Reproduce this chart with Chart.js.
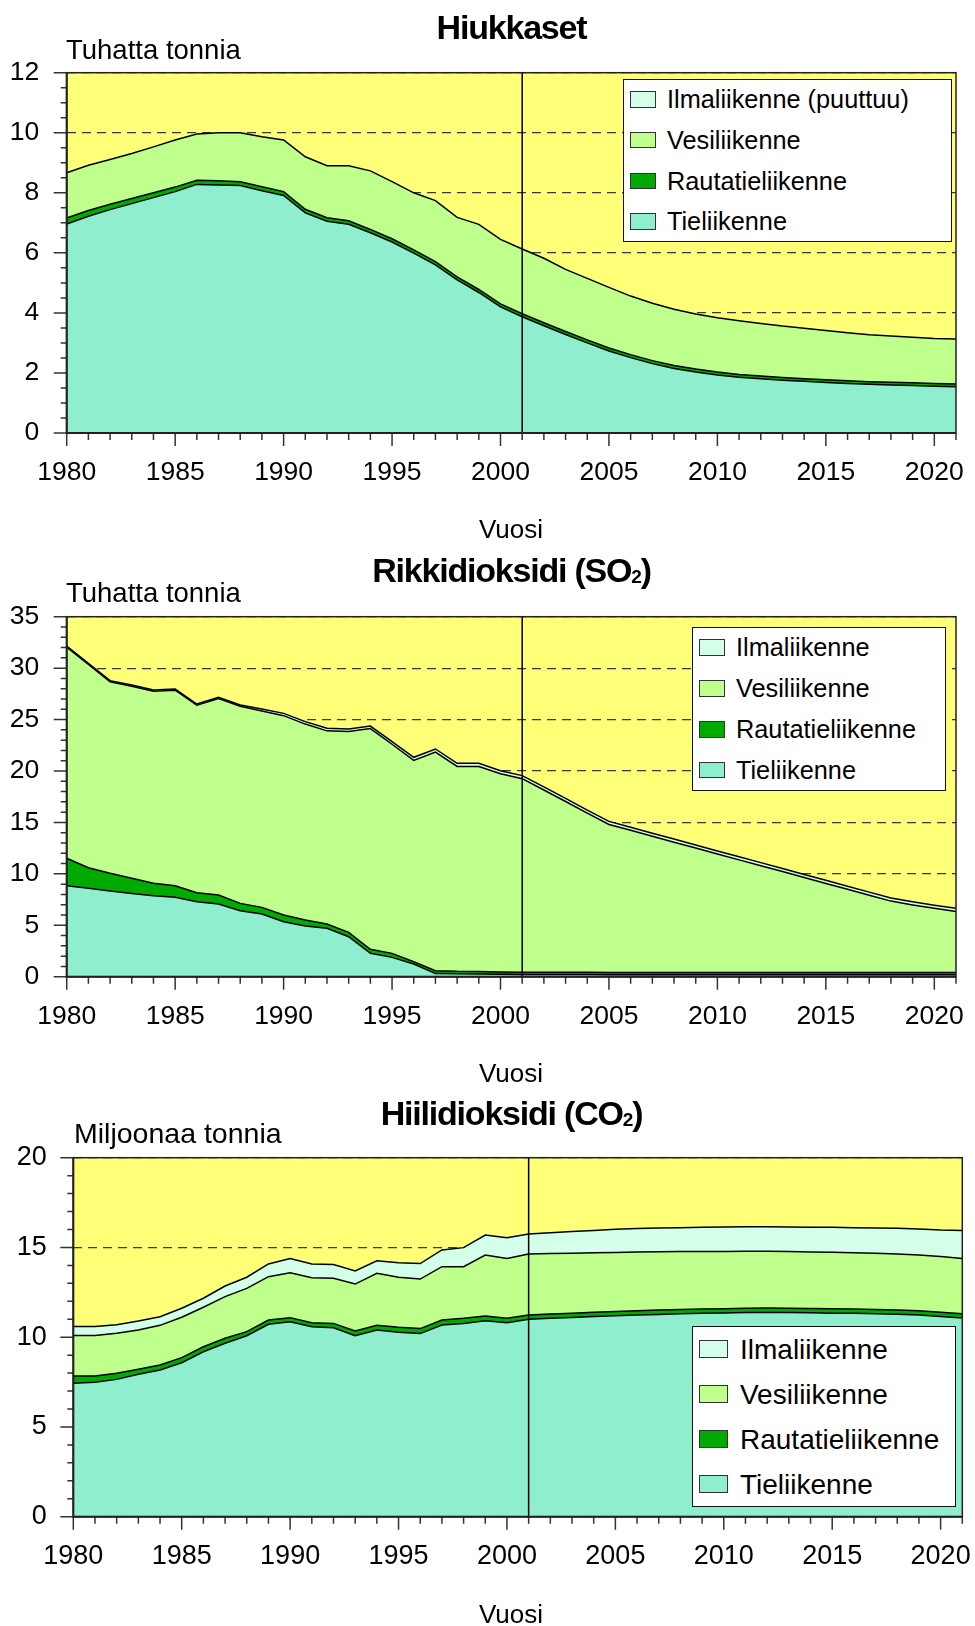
<!DOCTYPE html>
<html lang="fi">
<head>
<meta charset="utf-8">
<title>Liikenteen päästöt</title>
<script src="https://cdn.jsdelivr.net/npm/chart.js@4.4.1/dist/chart.umd.min.js"></script>
<style>
  html, body { margin: 0; padding: 0; background: #fff; }
  body { width: 975px; height: 1626px; position: relative; overflow: hidden;
         font-family: "Liberation Sans", Arial, Helvetica, sans-serif; color: #000; }
  canvas { position: absolute; left: 0; }
  .txt { position: absolute; line-height: 1; white-space: nowrap; }
  .ctr { transform: translateX(-50%); }
  .title { font-weight: bold; letter-spacing: -1.2px; }
  .sub { font-size: 0.56em; position: relative; top: 0.04em; }
  .legend { position: absolute; background: #fff; border: 1.7px solid #111; box-sizing: border-box; }
  .legend .sw { position: absolute; box-sizing: border-box; border: 1.5px solid #333; }
  .legend .lab { position: absolute; line-height: 1; white-space: nowrap; }
</style>
</head>
<body>

<canvas id="c1" width="975" height="545" style="top:0px"></canvas>
<canvas id="c2" width="975" height="540" style="top:545px"></canvas>
<canvas id="c3" width="975" height="541" style="top:1085px"></canvas>

<div class="txt ctr title" style="left:511.5px;top:9.5px;font-size:34px">Hiukkaset</div>
<div class="txt" style="left:66px;top:36px;font-size:27.5px">Tuhatta tonnia</div>
<div class="txt ctr" style="left:511px;top:516.3px;font-size:26px">Vuosi</div>

<div class="txt ctr title" style="left:511.5px;top:552.9px;font-size:34px">Rikkidioksidi (SO<span class="sub">2</span>)</div>
<div class="txt" style="left:66px;top:579.4px;font-size:27.5px">Tuhatta tonnia</div>
<div class="txt ctr" style="left:511px;top:1060px;font-size:26px">Vuosi</div>

<div class="txt ctr title" style="left:511.5px;top:1096.2px;font-size:34px">Hiilidioksidi (CO<span class="sub">2</span>)</div>
<div class="txt" style="left:74px;top:1119.2px;font-size:28.5px">Miljoonaa tonnia</div>
<div class="txt ctr" style="left:511px;top:1601.3px;font-size:26px">Vuosi</div>

<div class="legend" id="l1" style="left:623.3px;top:79px;width:328.4px;height:163.3px"></div>
<div class="legend" id="l2" style="left:692.3px;top:627.3px;width:253.4px;height:163.4px"></div>
<div class="legend" id="l3" style="left:691.7px;top:1326px;width:264.3px;height:180.7px"></div>

<script>
// Years on the horizontal axis
const years = [1980, 1981, 1982, 1983, 1984, 1985, 1986, 1987, 1988, 1989,
               1990, 1991, 1992, 1993, 1994, 1995, 1996, 1997, 1998, 1999,
               2000, 2001, 2002, 2003, 2004, 2005, 2006, 2007, 2008, 2009,
               2010, 2011, 2012, 2013, 2014, 2015, 2016, 2017, 2018, 2019,
               2020, 2021];
const xTickLabels = [1980, 1985, 1990, 1995, 2000, 2005, 2010, 2015, 2020];
const markerYear = 2001;

// Hiukkaset, tuhatta tonnia
const hiukkasetTie = [6.96, 7.22, 7.44, 7.64, 7.84, 8.04, 8.28, 8.26, 8.24, 8.07,
                      7.91, 7.33, 7.05, 6.95, 6.67, 6.36, 5.99, 5.60, 5.10, 4.68,
                      4.20, 3.87, 3.57, 3.28, 3.00, 2.73, 2.51, 2.31, 2.15, 2.03,
                      1.93, 1.86, 1.81, 1.76, 1.72, 1.68, 1.65, 1.62, 1.60, 1.58,
                      1.56, 1.54];
const hiukkasetRautatie = [0.20, 0.19, 0.18, 0.17, 0.16, 0.15, 0.14, 0.14, 0.13, 0.13,
                           0.13, 0.12, 0.12, 0.12, 0.11, 0.11, 0.11, 0.11, 0.10, 0.10,
                           0.10, 0.10, 0.10, 0.10, 0.10, 0.10, 0.10, 0.10, 0.10, 0.10,
                           0.10, 0.09, 0.09, 0.09, 0.09, 0.09, 0.09, 0.09, 0.09, 0.09,
                           0.09, 0.09];
const hiukkasetVesi = [1.51, 1.51, 1.49, 1.50, 1.53, 1.57, 1.54, 1.60, 1.63, 1.67,
                       1.72, 1.75, 1.73, 1.83, 1.95, 1.90, 1.90, 2.03, 1.98, 2.17,
                       2.15, 2.16, 2.15, 2.07, 2.05, 2.02, 1.95, 1.91, 1.87, 1.83,
                       1.81, 1.79, 1.75, 1.71, 1.68, 1.64, 1.60, 1.56, 1.54, 1.52,
                       1.50, 1.50];
const hiukkasetIlma = [];   // ei tietoja
const hiukkasetYTicks = [0, 2, 4, 6, 8, 10, 12];
const hiukkasetLabels = ['Tieliikenne', 'Rautatieliikenne', 'Vesiliikenne', 'Ilmaliikenne (puuttuu)'];

// Rikkidioksidi, tuhatta tonnia
const rikkiTie = [8.85, 8.59, 8.33, 8.10, 7.88, 7.72, 7.29, 7.07, 6.42, 6.10,
                  5.35, 4.93, 4.70, 3.89, 2.27, 1.88, 1.23, 0.30, 0.28, 0.27,
                  0.24, 0.22, 0.21, 0.21, 0.21, 0.20, 0.20, 0.20, 0.20, 0.20,
                  0.20, 0.20, 0.20, 0.20, 0.20, 0.20, 0.20, 0.20, 0.20, 0.20,
                  0.20, 0.20];
const rikkiRautatie = [2.66, 2.01, 1.72, 1.47, 1.20, 1.13, 0.88, 0.87, 0.71, 0.64,
                       0.65, 0.58, 0.42, 0.42, 0.39, 0.39, 0.23, 0.28, 0.24, 0.24,
                       0.22, 0.22, 0.22, 0.22, 0.22, 0.22, 0.22, 0.22, 0.22, 0.22,
                       0.22, 0.22, 0.22, 0.22, 0.22, 0.22, 0.22, 0.22, 0.22, 0.22,
                       0.22, 0.22];
const rikkiVesi = [20.52, 19.75, 18.61, 18.67, 18.67, 19.00, 18.22, 19.10, 19.16, 19.09,
                   19.38, 19.05, 18.78, 19.52, 21.46, 20.33, 19.57, 21.26, 19.92, 19.93,
                   19.27, 18.81, 17.72, 16.60, 15.47, 14.38, 13.81, 13.23, 12.66, 12.09,
                   11.51, 10.94, 10.37, 9.80, 9.22, 8.65, 8.08, 7.50, 6.93, 6.56,
                   6.23, 5.93];
const rikkiIlma = [0.12, 0.12, 0.12, 0.12, 0.12, 0.12, 0.12, 0.12, 0.12, 0.20,
                   0.22, 0.24, 0.25, 0.25, 0.25, 0.25, 0.30, 0.30, 0.30, 0.30,
                   0.30, 0.30, 0.30, 0.30, 0.30, 0.30, 0.30, 0.30, 0.30, 0.30,
                   0.30, 0.30, 0.30, 0.30, 0.30, 0.30, 0.30, 0.30, 0.30, 0.30,
                   0.30, 0.30];
const rikkiYTicks = [0, 5, 10, 15, 20, 25, 30, 35];
const rikkiLabels = ['Tieliikenne', 'Rautatieliikenne', 'Vesiliikenne', 'Ilmaliikenne'];

// Hiilidioksidi, miljoonaa tonnia
const hiiliTie = [7.43, 7.49, 7.65, 7.93, 8.17, 8.58, 9.19, 9.66, 10.08, 10.72,
                  10.86, 10.58, 10.53, 10.08, 10.40, 10.27, 10.20, 10.68, 10.77, 10.92,
                  10.81, 11.00, 11.05, 11.10, 11.15, 11.19, 11.23, 11.27, 11.30, 11.33,
                  11.35, 11.37, 11.38, 11.37, 11.36, 11.34, 11.33, 11.31, 11.28, 11.24,
                  11.15, 11.07];
const hiiliRautatie = [0.41, 0.35, 0.34, 0.28, 0.28, 0.28, 0.28, 0.28, 0.23, 0.24,
                       0.23, 0.23, 0.24, 0.27, 0.26, 0.28, 0.28, 0.28, 0.28, 0.26,
                       0.24, 0.24, 0.24, 0.24, 0.24, 0.24, 0.24, 0.24, 0.24, 0.24,
                       0.24, 0.24, 0.24, 0.24, 0.24, 0.24, 0.24, 0.24, 0.24, 0.24,
                       0.24, 0.24];
const hiiliVesi = [2.26, 2.26, 2.23, 2.19, 2.21, 2.25, 2.20, 2.32, 2.41, 2.41,
                   2.50, 2.50, 2.51, 2.61, 2.90, 2.79, 2.76, 2.97, 2.88, 3.40,
                   3.34, 3.39, 3.37, 3.34, 3.31, 3.29, 3.27, 3.25, 3.23, 3.21,
                   3.19, 3.18, 3.17, 3.16, 3.15, 3.15, 3.14, 3.13, 3.12, 3.10,
                   3.11, 3.07];
const hiiliIlma = [0.49, 0.49, 0.48, 0.50, 0.48, 0.50, 0.50, 0.59, 0.62, 0.71,
                   0.80, 0.77, 0.77, 0.73, 0.70, 0.81, 0.86, 0.93, 1.06, 1.11,
                   1.15, 1.12, 1.16, 1.21, 1.25, 1.29, 1.31, 1.33, 1.33, 1.34,
                   1.36, 1.37, 1.37, 1.37, 1.37, 1.39, 1.39, 1.41, 1.43, 1.45,
                   1.47, 1.56];
const hiiliYTicks = [0, 5, 10, 15, 20];
const hiiliLabels = ['Tieliikenne', 'Rautatieliikenne', 'Vesiliikenne', 'Ilmaliikenne'];

// Fill colours, bottom layer first
const seriesColors = ['#8eeecd', '#00aa00', '#bfff8c', '#d4ffe8'];
const plotBackground = '#ffff78';
const fontFamily = "'Liberation Sans', Arial, Helvetica, sans-serif";

// Plot background, boundary-year line, frame and tick marks
const panelFrame = {
  id: 'panelFrame',
  beforeDraw(chart, args, o) {
    const { ctx, chartArea: a } = chart;
    ctx.save();
    ctx.fillStyle = o.background;
    ctx.fillRect(a.left, a.top, a.right - a.left, a.bottom - a.top);
    ctx.restore();
  },
  afterDatasetsDraw(chart, args, o) {
    const { ctx, chartArea: a, scales: { x, y } } = chart;
    ctx.save();
    ctx.lineCap = 'butt';

    const mx = x.getPixelForValue(o.markerYear);
    ctx.strokeStyle = '#000';
    ctx.lineWidth = 1.5;
    ctx.beginPath();
    ctx.moveTo(mx, a.top);
    ctx.lineTo(mx, a.bottom);
    ctx.stroke();

    ctx.strokeStyle = '#333';
    ctx.lineWidth = 1.5;
    ctx.beginPath();
    years.forEach(yr => {
      const px = x.getPixelForValue(yr);
      const len = yr % 5 === 0 ? 13 : 7;
      ctx.moveTo(px, a.bottom);
      ctx.lineTo(px, a.bottom + len);
    });
    const majors = y.ticks.map(t => t.value);
    for (let k = 0; k * o.yMinor <= y.max + 1e-9; k++) {
      const v = k * o.yMinor;
      const py = y.getPixelForValue(v);
      const len = majors.some(m => Math.abs(m - v) < 1e-9) ? 13 : 6;
      ctx.moveTo(a.left, py);
      ctx.lineTo(a.left - len, py);
    }
    ctx.stroke();

    ctx.strokeStyle = '#222';
    ctx.lineWidth = 1.5;
    ctx.strokeRect(a.left, a.top, a.right - a.left, a.bottom - a.top);
    ctx.lineWidth = 2;
    ctx.beginPath();
    ctx.moveTo(a.left, a.top);
    ctx.lineTo(a.left, a.bottom);
    ctx.lineTo(a.right, a.bottom);
    ctx.stroke();
    ctx.restore();
  }
};

function buildPanel(p) {
  const datasets = p.series.map((values, i) => ({
    label: p.labels[i],
    data: values.map((v, j) => ({ x: years[j], y: v })),
    backgroundColor: seriesColors[i],
    borderColor: '#000',
    borderWidth: 1.5,
    fill: i === 0 ? 'origin' : '-1',
    pointRadius: 0,
    tension: 0
  }));

  new Chart(document.getElementById(p.canvas), {
    type: 'line',
    data: { datasets },
    plugins: [panelFrame],
    options: {
      responsive: false,
      animation: false,
      devicePixelRatio: 1,
      events: [],
      layout: { padding: { left: 0, top: p.padTop, right: p.padRight, bottom: 0 } },
      plugins: {
        legend: { display: false },
        tooltip: { enabled: false },
        panelFrame: { background: plotBackground, markerYear: markerYear, yMinor: p.yMinor }
      },
      scales: {
        x: {
          type: 'linear',
          min: years[0],
          max: years[years.length - 1],
          afterBuildTicks: s => { s.ticks = xTickLabels.map(v => ({ value: v })); },
          afterFit: s => { s.height = p.xHeight; },
          grid: { display: true, drawOnChartArea: false, drawTicks: true, tickLength: 24, tickWidth: 0 },
          border: { display: false },
          ticks: { padding: 0, autoSkip: false, maxRotation: 0, color: '#000',
                   font: { family: fontFamily, size: p.fontSize },
                   callback: v => String(v) }
        },
        y: {
          type: 'linear',
          stacked: true,
          min: 0,
          max: p.yTicks[p.yTicks.length - 1],
          afterBuildTicks: s => { s.ticks = p.yTicks.map(v => ({ value: v })); },
          afterFit: s => { s.width = p.yWidth; },
          grid: { display: true, drawOnChartArea: true, color: '#3a3a3a', lineWidth: 1.2,
                  drawTicks: true, tickLength: p.yLabelGap, tickWidth: 0 },
          border: { display: false, dash: [9, 6] },
          ticks: { padding: 0, autoSkip: false, color: '#000',
                   font: { family: fontFamily, size: p.fontSize },
                   callback: v => String(v) }
        }
      }
    }
  });

  // Legend: top layer first
  const box = document.getElementById(p.legend);
  const g = p.legendGeom;
  const bw = 1.7;
  for (let r = 0; r < p.series.length; r++) {
    const i = p.series.length - 1 - r;
    const cy = g.first + r * g.step - bw;
    const sw = document.createElement('div');
    sw.className = 'sw';
    sw.style.left = (g.swLeft - bw) + 'px';
    sw.style.top = (cy - g.swH / 2) + 'px';
    sw.style.width = g.swW + 'px';
    sw.style.height = g.swH + 'px';
    sw.style.background = seriesColors[i];
    box.appendChild(sw);
    const lab = document.createElement('div');
    lab.className = 'lab';
    lab.style.left = (g.txtLeft - bw) + 'px';
    lab.style.top = (cy - 0.4885 * g.fontSize) + 'px';
    lab.style.fontSize = g.fontSize + 'px';
    lab.textContent = p.labels[i];
    box.appendChild(lab);
  }
}

const smallLegend = { first: 21, step: 40.8, swLeft: 7.7, swW: 25.7, swH: 16.7, txtLeft: 44.4, fontSize: 25.3 };

buildPanel({
  canvas: 'c1', legend: 'l1',
  series: [hiukkasetTie, hiukkasetRautatie, hiukkasetVesi, hiukkasetIlma],
  labels: hiukkasetLabels, yTicks: hiukkasetYTicks, yMinor: 0.5,
  yWidth: 66.7, padTop: 72.7, padRight: 19, xHeight: 112,
  yLabelGap: 27.5, fontSize: 26.5, legendGeom: smallLegend
});

buildPanel({
  canvas: 'c2', legend: 'l2',
  series: [rikkiTie, rikkiRautatie, rikkiVesi, rikkiIlma],
  labels: rikkiLabels, yTicks: rikkiYTicks, yMinor: 1,
  yWidth: 66.7, padTop: 71.7, padRight: 19, xHeight: 108.3,
  yLabelGap: 27.5, fontSize: 26.5, legendGeom: smallLegend
});

buildPanel({
  canvas: 'c3', legend: 'l3',
  series: [hiiliTie, hiiliRautatie, hiiliVesi, hiiliIlma],
  labels: hiiliLabels, yTicks: hiiliYTicks, yMinor: 1,
  yWidth: 73.3, padTop: 72.7, padRight: 12.7, xHeight: 109.3,
  yLabelGap: 26.6, fontSize: 27,
  legendGeom: { first: 24, step: 45, swLeft: 8.3, swW: 28.3, swH: 18.3, txtLeft: 49, fontSize: 28 }
});
</script>
</body>
</html>
